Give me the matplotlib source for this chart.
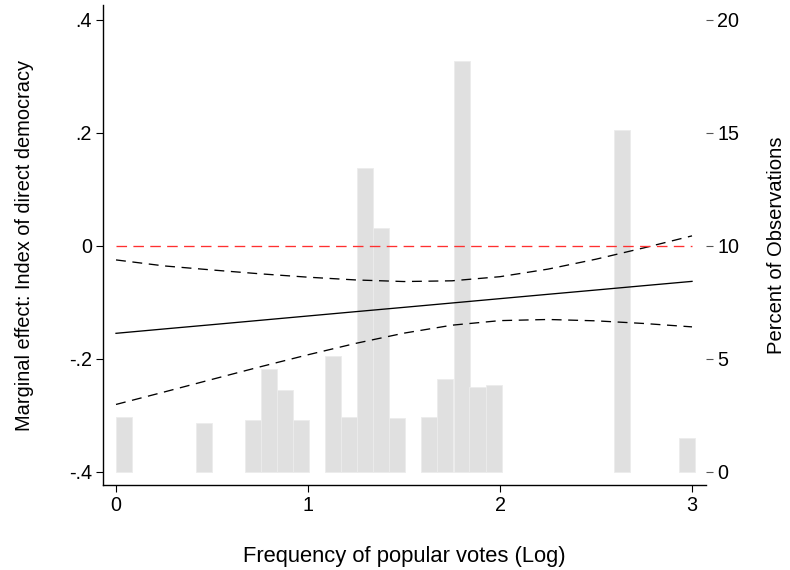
import matplotlib

matplotlib.use("Agg")
import matplotlib.pyplot as plt

plt.rcParams["font.family"] = ["Liberation Sans", "DejaVu Sans"]

# histogram of the moderator (percent of observations per bin)
bin_left = [0.000, 0.418, 0.670, 0.753, 0.837, 0.920, 1.088, 1.172, 1.255,
            1.339, 1.423, 1.590, 1.674, 1.758, 1.841, 1.925, 2.595, 2.930]
bin_width = 0.0837
bin_pct = [2.4, 2.15, 2.27, 4.53, 3.63, 2.3, 5.12, 2.44, 13.45,
           10.8, 2.37, 2.4, 4.12, 18.2, 3.75, 3.82, 15.14, 1.48]

# marginal effect and 95% confidence band
me_x = [0.0, 0.25, 0.5, 0.75, 1.0, 1.25, 1.5, 1.75, 2.0, 2.25, 2.5, 2.75, 3.0]
me = [-0.155, -0.1473, -0.1397, -0.132, -0.1243, -0.1166, -0.109, -0.1013,
      -0.0936, -0.0859, -0.0783, -0.0706, -0.063]
ci_upper = [-0.025, -0.0356, -0.0428, -0.0496, -0.0556, -0.0605, -0.0633,
            -0.062, -0.0547, -0.0413, -0.0237, -0.0036, 0.0176]
ci_lower = [-0.281, -0.259, -0.2366, -0.2144, -0.193, -0.1727, -0.1547,
            -0.1406, -0.1325, -0.1305, -0.1329, -0.1376, -0.1436]

left_ticks = [-0.4, -0.2, 0.0, 0.2, 0.4]
left_labels = ["-.4", "-.2", "0", ".2", ".4"]
right_ticks = [0, 5, 10, 15, 20]
x_ticks = [0, 1, 2, 3]

fig = plt.figure(figsize=(7.9, 5.7), dpi=100)
ax = fig.add_axes([0.1304, 0.1491, 0.7633, 0.8421])
ax2 = ax.twinx()
ax.set_zorder(ax2.get_zorder() + 1)
ax.patch.set_visible(False)

# --- histogram on the right axis ----------------------------------------
ax2.bar(bin_left, bin_pct, width=bin_width, align="edge",
        color="#e0e0e0", edgecolor="#ececec", linewidth=0.6)

# --- marginal effect lines on the left axis ------------------------------
ax.plot(me_x, me, color="black", lw=0.95)
for band in (ci_upper, ci_lower):
    ax.plot(me_x, band, color="black", lw=0.95, dashes=(7.5, 5))
ax.plot([me_x[0], me_x[-1]], [0, 0], color="#ff3030", lw=0.95, dashes=(8, 4.8))

ylo, yhi = -0.4237, 0.4265
ax.set_xlim(-0.0677, 3.073)
ax.set_ylim(ylo, yhi)
ax2.set_ylim((ylo + 0.4) / 0.04, (yhi + 0.4) / 0.04)

ax.set_xticks(x_ticks)
ax.set_yticks(left_ticks)
ax.set_yticklabels(left_labels)
ax2.set_yticks(right_ticks)

for a in (ax, ax2):
    a.spines["top"].set_visible(False)
    a.spines["right"].set_visible(False)
ax2.spines["left"].set_visible(False)
ax2.spines["bottom"].set_visible(False)
ax.spines["left"].set_linewidth(1.0)
ax.spines["bottom"].set_linewidth(1.0)

ax.tick_params(axis="both", labelsize=14.2, length=5, width=0.8, pad=3)
ax2.tick_params(axis="y", labelsize=14.2, length=5, width=0.8, pad=3,
                color="#555555")

ax.set_xlabel("Frequency of popular votes (Log)", fontsize=15.8, labelpad=22)
ax.set_ylabel("Marginal effect: Index of direct democracy", fontsize=14.4,
              labelpad=25)
ax2.set_ylabel("Percent of Observations", fontsize=14.6, labelpad=20)

fig.savefig("out.png", dpi=100)
